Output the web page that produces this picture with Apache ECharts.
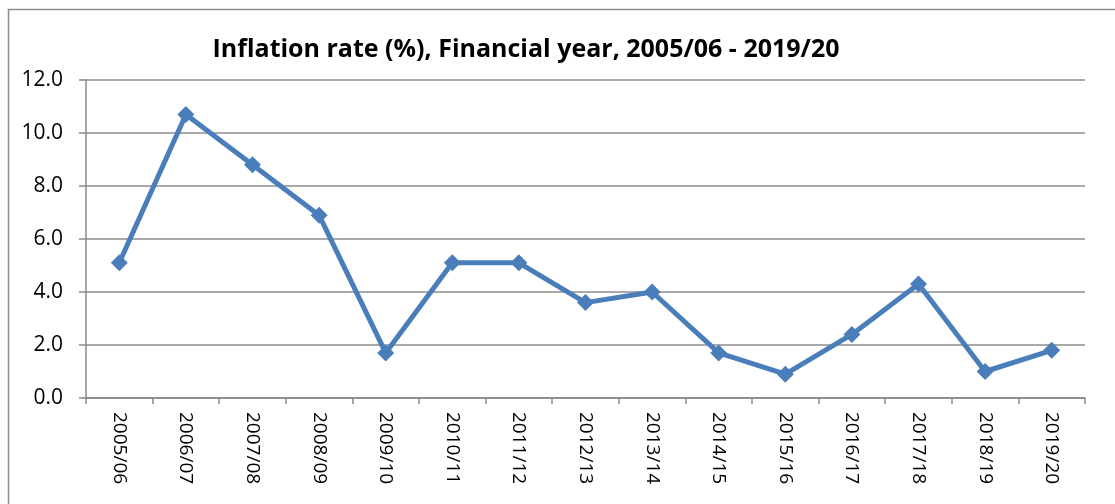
<!DOCTYPE html>
<html><head><meta charset="utf-8">
<script src="https://cdn.jsdelivr.net/npm/echarts@6/dist/echarts.min.js"></script>
<style>html,body{margin:0;padding:0;background:#fff}#c{width:1115px;height:504px}</style>
</head><body><div id="c"></div>
<script>
const categories = ["2005/06","2006/07","2007/08","2008/09","2009/10","2010/11","2011/12","2012/13","2013/14","2014/15","2015/16","2016/17","2017/18","2018/19","2019/20"];
const inflation = [5.1,10.7,8.8,6.9,1.7,5.1,5.1,3.6,4.0,1.7,0.9,2.4,4.3,1.0,1.8];
const titleText = "Inflation rate (%), Financial year, 2005/06 - 2019/20";
const FONT = "'Open Sans', 'Liberation Sans', sans-serif";
const chart = echarts.init(document.getElementById('c'), null, {renderer:'canvas'});
chart.setOption({
  animation:false,
  backgroundColor:'#fff',
  graphic:[{type:'rect',shape:{x:8.5,y:9.5,width:1130,height:520},style:{fill:'none',stroke:'#8c8c8c',lineWidth:1.5},silent:true}],
  title:{text:titleText,left:521,top:32,textAlign:'center',textStyle:{fontFamily:FONT,fontSize:25,fontWeight:'bold',color:'#000'}},
  grid:{left:86,right:30,top:80,bottom:106,containLabel:false},
  xAxis:{type:'category',data:categories,boundaryGap:true,
    axisLine:{lineStyle:{color:'#888',width:1.5}},
    axisTick:{show:true,alignWithLabel:false,length:6,lineStyle:{color:'#888',width:1.5}},
    axisLabel:{rotate:-90,interval:0,margin:14,fontFamily:FONT,fontSize:19,color:'#000'}},
  yAxis:{type:'value',min:0,max:12,interval:2,
    axisLine:{show:true,lineStyle:{color:'#888',width:1.5}},
    axisTick:{show:true,length:7,lineStyle:{color:'#888',width:1.5}},
    splitLine:{lineStyle:{color:'#8c8c8c',width:1.5}},
    axisLabel:{formatter:v=>v.toFixed(1),margin:23,fontFamily:FONT,fontSize:21,color:'#000'}},
  series:[{type:'line',data:inflation,symbol:'diamond',symbolSize:17,
    lineStyle:{color:'#4a7ebb',width:5},itemStyle:{color:'#4a7ebb'}}]
});
</script></body></html>
